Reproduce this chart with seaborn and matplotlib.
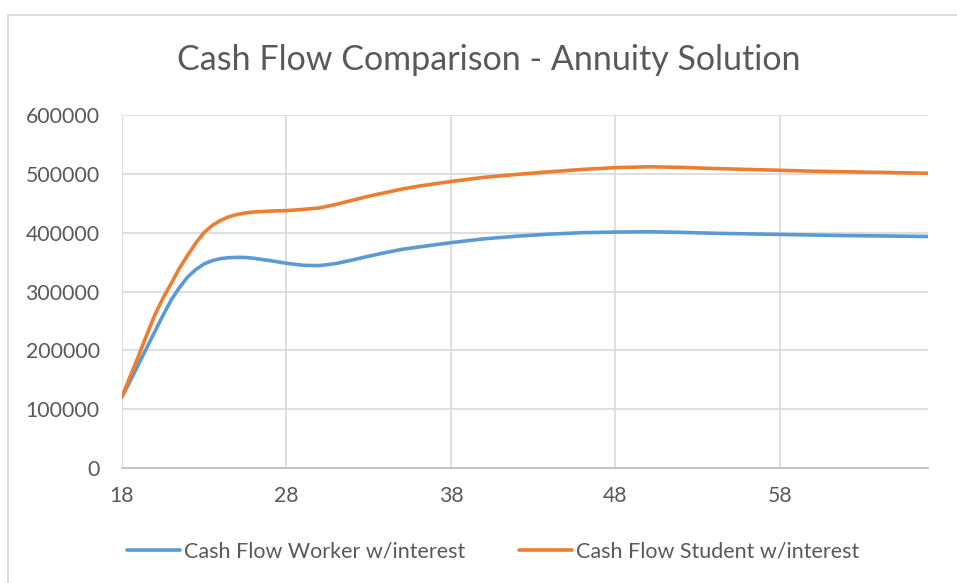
import matplotlib
matplotlib.use("Agg")
import matplotlib.pyplot as plt
import seaborn as sns
import pandas as pd
from matplotlib.patches import Rectangle

ages = [18, 18.5, 19, 19.5, 20, 20.5, 21, 21.5, 22, 22.5, 23, 23.5, 24, 24.5, 25, 25.5,
        26, 27, 28, 29, 30, 31, 32, 33, 34, 35, 36,
        38, 40, 42, 44, 46, 48, 50, 52, 54, 56, 58, 60, 62, 64, 67]
worker = [121000, 148000, 176000, 204000, 232000, 260000, 286000, 307000, 325000,
          337500, 347000, 352500, 356000, 357500, 358000, 357800, 356500,
          352500, 348000, 344500, 344000, 347500, 353500, 360000, 366000, 371500,
          375500, 383000, 389500, 394000, 397500, 400000, 401000, 401500, 400500,
          399000, 398000, 397000, 396000, 395000, 394500, 393500]
student = [121000, 156000, 190000, 226000, 260500, 289000, 314000, 340000, 362000,
           383000, 400500, 412500, 421000, 427000, 431000, 433500, 435000,
           436700, 437500, 439500, 442000, 448000, 455000, 462000, 468000, 474000,
           479000, 487000, 494000, 499000, 503500, 507500, 510500, 512000, 511000,
           509000, 507500, 506000, 504500, 503500, 502500, 501000]
series_names = ["Cash Flow Worker w/interest", "Cash Flow Student w/interest"]
x_ticks = [18, 28, 38, 48, 58]
y_ticks = [0, 100000, 200000, 300000, 400000, 500000, 600000]
title = "Cash Flow Comparison - Annuity Solution"

df = pd.concat([
    pd.DataFrame({"Age": ages, "Value": worker, "Series": series_names[0]}),
    pd.DataFrame({"Age": ages, "Value": student, "Series": series_names[1]}),
])

sns.set_style("white")
plt.rcParams["font.family"] = ["Lato", "DejaVu Sans"]

TXT = "#595959"
GRID = "#d9d9d9"

fig = plt.figure(figsize=(9.57, 5.83), dpi=100)
ax = fig.add_axes([122 / 957, 1 - 468 / 583, (928 - 122) / 957, (468 - 115) / 583])

# chart border
fig.patches.append(Rectangle((8 / 957, -0.05), 1.2, 1 - 15 / 583 + 0.05,
                             transform=fig.transFigure, fill=False,
                             edgecolor=GRID, linewidth=1.3, zorder=0))

sns.lineplot(data=df, x="Age", y="Value", hue="Series", ax=ax,
             palette=["#5B9BD5", "#ED7D31"], linewidth=2.6, legend=True)

ax.set_xlim(18, 67)
ax.set_ylim(0, 600000)
ax.set_xticks(x_ticks)
ax.set_yticks(y_ticks)
ax.set_xticklabels([str(t) for t in x_ticks])
ax.set_yticklabels([str(t) for t in y_ticks])
ax.grid(True, color=GRID, linewidth=1.2)
ax.set_axisbelow(True)
for s in ["top", "right", "left"]:
    ax.spines[s].set_visible(False)
ax.spines["bottom"].set_color("#bfbfbf")
ax.spines["bottom"].set_linewidth(1.3)
ax.tick_params(axis="both", length=0, labelsize=15.3, colors=TXT)
ax.tick_params(axis="y", pad=16)
ax.tick_params(axis="x", pad=13)
ax.set_xlabel("")
ax.set_ylabel("")

fig.text(489 / 957, 1 - 60 / 583, title, ha="center", va="center",
         fontsize=24.5, color=TXT)

ax.legend(title=None, loc="center", bbox_to_anchor=(493 / 957, 1 - 552 / 583),
          bbox_transform=fig.transFigure, ncol=2, frameon=False, fontsize=15.5,
          labelcolor=TXT, handlelength=2.45, handletextpad=0.2, columnspacing=2.5)

fig.savefig("out.png", dpi=100)
